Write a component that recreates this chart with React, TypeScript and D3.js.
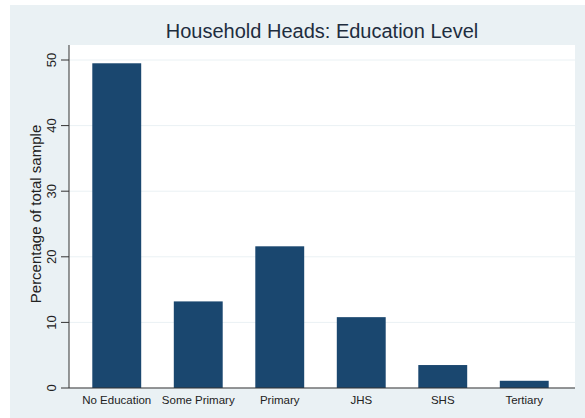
import React from "react";
import * as d3 from "d3";

const categories = ["No Education", "Some Primary", "Primary", "JHS", "SHS", "Tertiary"];
const values = [49.5, 13.2, 21.6, 10.8, 3.5, 1.1];
const yTicks = [0, 10, 20, 30, 40, 50];
const title = "Household Heads: Education Level";
const yTitle = "Percentage of total sample";

const W = 585;
const H = 418;
const plot = { left: 69, right: 575, top: 45, bottom: 388 };

export default function App() {
  const x = d3
    .scaleBand<string>()
    .domain(categories)
    .range([76, 565])
    .paddingInner(0.4)
    .paddingOuter(0.2);
  const y = d3.scaleLinear().domain([0, 50]).range([388, 60]);
  const font = "Liberation Sans, Arial, sans-serif";

  return (
    <svg
      width={W}
      height={H}
      style={{ position: "absolute", left: 0, top: 0, display: "block" }}
    >
      <rect x={0} y={0} width={W} height={H} fill="#ffffff" />
      <rect x={10} y={5} width={W - 10} height={H - 5} fill="#eaf1f4" />
      <rect
        x={plot.left}
        y={plot.top}
        width={plot.right - plot.left}
        height={plot.bottom - plot.top}
        fill="#ffffff"
      />
      {yTicks.map((t) => (
        <line
          key={"g" + t}
          x1={plot.left}
          x2={plot.right}
          y1={y(t)}
          y2={y(t)}
          stroke="#eaf1f4"
          strokeWidth={1}
        />
      ))}
      {categories.map((c, i) => (
        <rect
          key={c}
          x={x(c)}
          y={y(values[i])}
          width={x.bandwidth()}
          height={y(0) - y(values[i])}
          fill="#1a476f"
        />
      ))}
      <line x1={plot.left} x2={plot.left} y1={plot.top} y2={plot.bottom} stroke="#333" strokeWidth={1} />
      <line x1={plot.left} x2={plot.right} y1={plot.bottom} y2={plot.bottom} stroke="#333" strokeWidth={1} />
      {yTicks.map((t) => (
        <g key={"t" + t}>
          <line x1={plot.left - 8} x2={plot.left} y1={y(t)} y2={y(t)} stroke="#333" />
          <text
            transform={`translate(${plot.left - 13},${y(t)}) rotate(-90)`}
            textAnchor="middle"
            fontFamily={font}
            fontSize={13}
            fill="#222"
          >
            {t}
          </text>
        </g>
      ))}
      {categories.map((c) => (
        <text
          key={"x" + c}
          x={(x(c) as number) + x.bandwidth() / 2}
          y={404}
          textAnchor="middle"
          fontFamily={font}
          fontSize={11.5}
          fill="#222"
        >
          {c}
        </text>
      ))}
      <text
        transform={`translate(41,214) rotate(-90)`}
        textAnchor="middle"
        fontFamily={font}
        fontSize={15}
        fill="#222"
      >
        {yTitle}
      </text>
      <text
        x={(plot.left + plot.right) / 2}
        y={38}
        textAnchor="middle"
        fontFamily={font}
        fontSize={20}
        fill="#1e2d3e"
      >
        {title}
      </text>
    </svg>
  );
}
